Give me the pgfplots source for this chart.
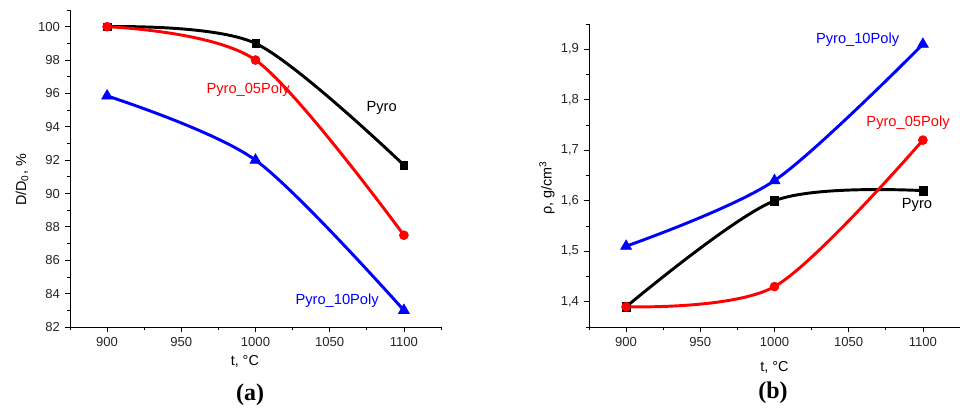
\documentclass[border=0pt]{standalone}
\usepackage{fontspec}
\setmainfont{Liberation Sans}
\newfontfamily\capfont{Liberation Serif}
\usepackage{pgfplots}
\pgfplotsset{compat=1.18}

\pgfplotsset{
  panel/.style={
    scale only axis,
    anchor=south west,
    axis x line*=bottom, axis y line*=left,
    tick align=outside,
    major tick length=4pt, minor tick length=2.5pt,
    every tick/.style={black, line width=0.6pt},
    axis line style={line width=0.6pt},
    tick label style={font=\fontsize{9.8}{11}\selectfont, text=black!85},
    label style={font=\fontsize{10.8}{12}\selectfont},
    /pgf/number format/assume math mode=true,
    xmin=875, xmax=1125,
    xtick={900,950,...,1100},
    minor xtick={875,925,...,1125},
    xticklabel style={/pgf/number format/1000 sep={}},
    xlabel={t, °C},
    clip=false,
  },
  curve/.style={line width=2.2pt, smooth, mark options={line width=0.4pt}},
}

\begin{document}
\begin{tikzpicture}
\path[use as bounding box] (0,0) rectangle (720pt,307.5pt);

% (a)
\begin{axis}[panel,
  at={(52.5pt,62.25pt)}, width=278.25pt, height=237.75pt,
  ymin=82, ymax=101,
  ytick={82,84,...,100},
  minor ytick={83,85,...,101},
  ylabel={D/D\textsubscript{0}, \%},
  xlabel style={at={([xshift=-8pt,yshift=-26pt]axis description cs:0.5,0)}, anchor=center},
  ylabel style={at={([xshift=-36pt]axis description cs:0,0.464)}, anchor=center},
]
\addplot[curve, black, mark=square*, mark size=2.8pt] coordinates {
  (900,100) (1000,99) (1100,91.7)
};
\addplot[curve, red, mark=*, mark size=3.4pt] coordinates {
  (900,100) (1000,98) (1100,87.5)
};
\addplot[curve, blue, mark=triangle*, mark size=4.8pt] coordinates {
  (900,95.85) (1000,92) (1100,83)
};
\node[font=\fontsize{11}{13}\selectfont] at (axis cs:1085,95.1) {Pyro};
\node[font=\fontsize{11}{13}\selectfont, red] at (axis cs:995,96.2) {Pyro\_05Poly};
\node[font=\fontsize{11}{13}\selectfont, blue] at (axis cs:1055,83.6) {Pyro\_10Poly};
\end{axis}

% (b)
\begin{axis}[panel,
  at={(441.75pt,62.25pt)}, width=278.25pt, height=227.25pt,
  ymin=1.35, ymax=1.95,
  ytick={1.4,1.5,...,1.91},
  minor ytick={1.35,1.45,...,1.96},
  yticklabel style={/pgf/number format/.cd, fixed, fixed zerofill, precision=1, use comma},
  ylabel={ρ, g/cm\textsuperscript{3}},
  xlabel style={at={([yshift=-30.5pt]axis description cs:0.5,0)}, anchor=center},
  ylabel style={at={([xshift=-31.5pt]axis description cs:0,0.459)}, anchor=center},
]
\addplot[curve, black, mark=square*, mark size=3.1pt] coordinates {
  (900,1.39) (1000,1.60) (1100,1.62)
};
\addplot[curve, red, mark=*, mark size=3.4pt] coordinates {
  (900,1.39) (1000,1.43) (1100,1.72)
};
\addplot[curve, blue, mark=triangle*, mark size=4.8pt] coordinates {
  (900,1.51) (1000,1.64) (1100,1.91)
};
\node[font=\fontsize{11}{13}\selectfont] at (axis cs:1096,1.592) {Pyro};
\node[font=\fontsize{11}{13}\selectfont, red] at (axis cs:1090,1.754) {Pyro\_05Poly};
\node[font=\fontsize{11}{13}\selectfont, blue] at (axis cs:1056,1.918) {Pyro\_10Poly};
\end{axis}

\node[font=\capfont\bfseries\fontsize{18}{20}\selectfont] at (187.5pt,11.25pt) {(a)};
\node[font=\capfont\bfseries\fontsize{18}{20}\selectfont] at (579.75pt,12.75pt) {(b)};
\end{tikzpicture}
\end{document}
